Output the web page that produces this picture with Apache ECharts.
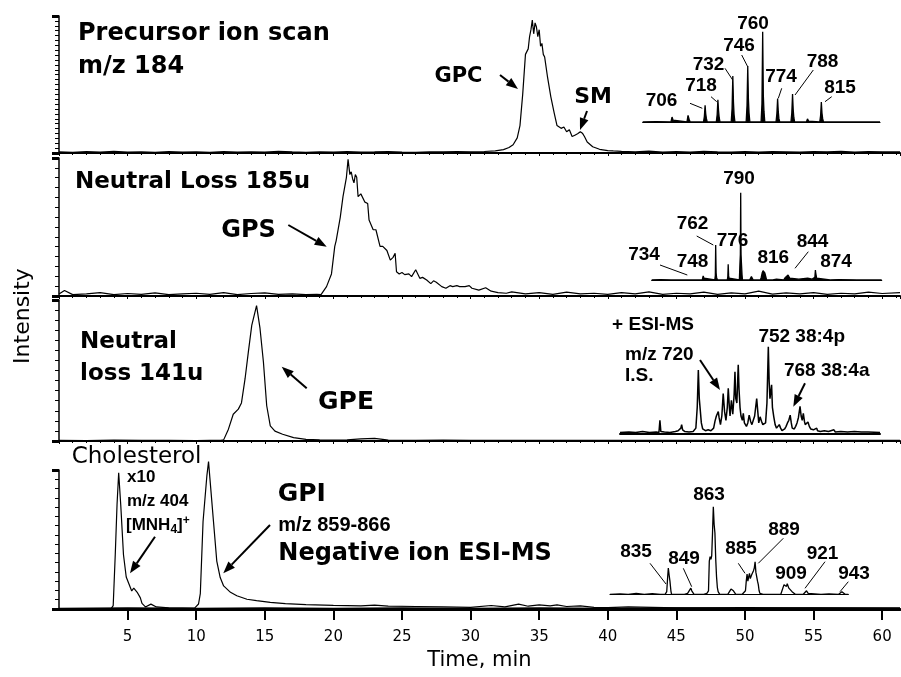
<!DOCTYPE html>
<html>
<head>
<meta charset="utf-8">
<title>Lipid class chromatograms</title>
<script src="https://cdn.jsdelivr.net/npm/echarts@6/dist/echarts.min.js"></script>
<style>
html, body { margin: 0; padding: 0; background: #fff; }
#main { width: 901px; height: 677px; }
</style>
</head>
<body>
<div id="main"></div>
<script>
// ---- chromatograms: retention time (min) / relative intensity (%) ----
var pcTime = [
    0, 1, 2, 3, 4, 5, 6, 7, 8, 9,
    10, 11, 12, 13, 14, 15, 16, 17, 18, 19,
    20, 21, 22, 23, 24, 25, 26, 27, 28, 29,
    30, 31, 31.8, 32.4, 32.8, 33.1, 33.4, 33.6, 33.8, 34.0,
    34.1, 34.2, 34.3, 34.4, 34.5, 34.6, 34.7, 34.8, 34.9, 35.0,
    35.1, 35.2, 35.3, 35.4, 35.6, 35.85, 36.1, 36.3, 36.6, 36.8,
    37.0, 37.2, 37.4, 37.6, 37.8, 38.0, 38.15, 38.3, 38.5, 38.9,
    39.4, 40.0, 40.4, 41, 42, 43, 44, 45, 46, 47,
    48, 49, 50, 51, 52, 53, 54, 55, 56, 57,
    58, 59, 60, 61.3
];
var pcInt = [
    0.8, 0.5, 1.0, 0.6, 1.2, 0.7, 0.9, 0.5, 1.1, 0.6,
    0.8, 0.5, 1.0, 0.7, 0.9, 0.6, 1.2, 0.8, 0.5, 0.9,
    0.7, 1.0, 0.6, 0.8, 1.1, 0.7, 0.5, 0.9, 0.8, 1.0,
    0.9, 1.1, 1.5, 2.5, 4, 6, 11, 20, 43, 72,
    74, 76, 85, 90, 97, 87, 95, 92, 85, 90,
    78, 80, 72, 70, 56, 41, 29, 20, 18, 19,
    15.5, 17, 12, 13, 14, 15.5, 14.5, 12, 8, 4.6,
    2.7, 1.8, 1.5, 1.2, 0.8, 1.3, 0.7, 1.0, 0.6, 1.2,
    0.8, 0.6, 1.0, 0.7, 1.1, 0.9, 0.6, 1.0, 0.8, 1.2,
    0.7, 1.0, 0.9, 0.8
];
var psTime = [
    0, 0.4, 1, 2, 3, 4, 5, 6, 7, 8,
    9, 10, 11, 12, 13, 14, 15, 16, 17, 18,
    18.8, 19.1, 19.5, 19.86, 20.1, 20.2, 20.5, 20.7, 20.95, 21.07,
    21.2, 21.3, 21.4, 21.5, 21.6, 21.7, 21.8, 22.0, 22.3, 22.5,
    22.6, 22.9, 23.1, 23.4, 23.6, 23.9, 24.15, 24.35, 24.5, 24.6,
    24.8, 25.0, 25.2, 25.5, 25.7, 26.0, 26.3, 26.5, 26.8, 27.1,
    27.3, 27.5, 27.9, 28.2, 28.5, 28.7, 29.0, 29.2, 29.6, 29.9,
    30.1, 30.6, 31.1, 31.5, 32, 32.6, 33, 34, 35, 36,
    37, 38, 39, 40, 41, 42, 43, 44, 45, 46,
    47, 48, 49, 50, 51, 52, 53, 54, 55, 56,
    57, 58, 59, 60, 61.3
];
var psInt = [
    1.5, 4, 1, 1.5, 2.5, 1, 1.8, 1.2, 2.2, 1.0,
    1.6, 2.0, 1.2, 2.5, 1.0, 1.8, 2.2, 1.2, 1.6, 1.0,
    1.2, 1.0, 6.8, 16, 36, 40, 57, 72, 86, 99,
    88, 90, 85, 82, 88, 86, 72, 74, 68, 67,
    55, 48, 48, 36, 36, 33, 26, 28, 31, 17.6,
    16, 17, 15.5, 16, 14, 19, 12.8, 13.5, 11.6, 9,
    11, 10, 6.8, 5.6, 7.5, 6.8, 7.5, 6.8, 6.8, 7.5,
    5.6, 4.3, 6, 3.5, 2.5, 2, 3, 1.5, 2.5, 1.2,
    2.8, 1.5, 2, 1.2, 2.5, 1.5, 3, 1.2, 2, 1.5,
    2.8, 1.2, 2.2, 1.5, 3.5, 1.3, 2.2, 1.5, 2.5, 1.2,
    2, 1.5, 2.8, 1.8, 2.5
];
var peTime = [
    0, 2, 4, 6, 8, 10, 11, 11.8, 12.0, 12.35,
    12.7, 13.07, 13.3, 13.56, 13.8, 14.05, 14.4, 14.65, 14.9, 15.14,
    15.4, 15.74, 16.3, 17.1, 18.0, 19, 20, 21, 22, 23,
    23.6, 24, 26, 28, 30, 35, 40, 45, 50, 55,
    61.3
];
var peInt = [
    0.5, 0.3, 0.6, 0.4, 0.5, 0.3, 0.5, 0.4, 0.8, 8.4,
    19, 22.6, 27, 44, 63, 82, 96, 80, 56, 25,
    10.7, 7, 4.8, 2.4, 1.2, 0.8, 0.6, 0.8, 1.5, 1.8,
    1.2, 0.6, 0.4, 0.6, 0.4, 0.5, 0.4, 0.5, 0.4, 0.5,
    0.4
];
var chTime = [
    0, 2, 3.8, 3.95, 4.1, 4.23, 4.35, 4.5, 4.7, 4.9,
    5.1, 5.3, 5.45, 5.57, 5.7, 5.8, 5.93, 6.05, 6.3, 6.7,
    7.1, 8, 10, 15, 20, 25, 30, 35, 40, 45,
    50, 55, 61.3
];
var chInt = [
    0.3, 0.3, 0.3, 2.4, 39, 75, 98, 75, 39, 23,
    18, 13, 15, 14, 12, 11, 8, 4, 1.5, 3.5,
    1.5, 0.8, 0.5, 0.8, 0.5, 0.8, 0.5, 0.8, 0.5, 0.8,
    0.5, 0.8, 0.5
];
var piTime = [
    0, 5, 8, 9.9, 10.17, 10.3, 10.5, 10.78, 10.9, 11.0,
    11.26, 11.5, 11.75, 12.0, 12.5, 12.96, 13.7, 14.4, 15.4, 16.5,
    18, 20, 22, 23, 24, 26, 28, 30, 31.5, 32.5,
    33.5, 34.2, 35, 35.8, 36.3, 37, 38, 39, 40, 41.5,
    45, 50, 55, 61.3
];
var piInt = [
    0.5, 0.8, 0.6, 0.8, 3.6, 11, 63, 96, 106, 94,
    63, 34.5, 22.6, 16.6, 12, 9.5, 7, 6, 4.8, 3.8,
    3.2, 2.6, 2.2, 2.8, 2, 1.8, 1.5, 1.2, 2.5, 1.5,
    3.5, 2, 3, 2.2, 3, 1.8, 2.2, 1.2, 1.0, 1.5,
    0.8, 1.0, 0.8, 0.8
];
var timeTicks = [5, 10, 15, 20, 25, 30, 35, 40, 45, 50, 55, 60];

// ---- inset mass spectra: m/z / relative abundance (%) ----
var pcMz = [
    647.5, 660, 661, 674, 675, 676, 677, 689, 690, 691,
    692, 704.5, 705.3, 706, 706.6, 707.2, 708, 716.5, 717.3, 718,
    718.6, 719.2, 720, 730.5, 731.3, 732, 732.6, 733.2, 734, 744.5,
    745.3, 746, 746.6, 747.2, 748, 758.5, 759.3, 760, 760.6, 761.2,
    762, 772.5, 773.3, 774, 774.6, 775.2, 776, 786.5, 787.3, 788,
    788.6, 789.2, 790, 801, 802, 803, 804, 813.5, 814.3, 815,
    815.6, 816.2, 817, 845, 846, 847, 870
];
var pcAbund = [
    0, 0.5, 0, 0, 5.5, 2, 0, 0, 7.4, 3,
    0, 0, 6, 18.5, 9, 4, 0, 0, 8, 24.5,
    13, 5, 0, 0, 15, 51, 22, 8, 0, 0,
    18, 62, 26, 10, 0, 0, 20, 100, 30, 12,
    0, 0, 9, 26, 12, 4, 0, 0, 10, 31,
    14, 5, 0, 0, 3.5, 1, 0, 0, 7, 22,
    10, 4, 0, 0, 2, 0, 0
];
var psMz = [
    690.4, 700, 701, 712, 714, 715, 725, 726, 727, 733,
    734, 735, 736, 747, 748, 749, 750, 761, 761.6, 762,
    762.5, 763, 764, 775, 775.6, 776, 776.5, 777, 778, 788.5,
    789.2, 789.6, 790, 790.4, 790.8, 791.5, 792, 800, 801, 802,
    803, 804, 812, 813, 814, 815, 816, 817, 818, 819,
    826, 828, 830, 831, 838, 839, 840, 841, 842, 843,
    844, 845, 846, 850, 855, 860, 865, 870, 873, 873.6,
    874, 875, 876, 890, 900, 901, 920, 921, 922, 947.8
];
var psAbund = [
    0, 0.5, 0, 0, 1.5, 0, 0, 1, 0, 0,
    1.9, 0.8, 0, 0, 4.6, 2, 0, 0, 5, 40,
    8, 3, 0, 0, 4, 18, 5, 2, 0, 0,
    20, 29, 100, 29, 20, 6, 0, 0, 2, 4,
    2, 0, 0, 3, 8, 10.7, 10, 8, 4, 0,
    0, 2, 1, 0, 0, 2, 3, 4.5, 3, 5.7,
    5, 2, 1, 1.5, 1, 1.5, 2, 1, 3, 11.5,
    8, 2, 0, 0, 0.5, 0, 0, 0.5, 0, 0
];
var peMz = [
    643.5, 650, 655, 660, 665, 670, 672, 672.7, 673.4, 676,
    680, 684, 686, 688, 688.6, 689.3, 691, 694, 697, 699,
    700, 700.8, 701.5, 702.2, 703, 704, 706, 708, 710, 712,
    713, 714, 715.4, 716, 717, 718, 719, 720, 721, 722,
    722.7, 723.5, 724, 725, 726, 727, 727.6, 728.2, 729, 730,
    730.6, 731.3, 732, 733, 733.7, 734.5, 736, 737, 738, 739,
    740, 741, 742, 743.5, 744.3, 745, 746, 747, 748, 749,
    750, 751, 752, 752.6, 753.2, 754.4, 755, 756, 757, 758,
    759, 760, 761, 762, 764, 765, 766, 767, 768, 768.8,
    769.5, 771, 772, 773, 774, 775.2, 776, 776.8, 777.6, 778.4,
    779, 780, 781, 782, 783, 785, 786, 787.4, 788, 790,
    793, 796, 800, 801, 805, 810, 815, 820, 825, 833.7
];
var peAbund = [
    1, 1.5, 1, 2, 1, 1.5, 1, 15, 2, 1.5,
    1, 2, 3, 6, 10, 4, 2, 1.5, 2, 6,
    30, 73, 40, 27, 12, 5, 3, 4, 3, 6,
    14, 20, 25, 18, 10, 20, 46, 25, 15, 30,
    52, 30, 20, 38, 22, 45, 71, 40, 35, 79,
    50, 30, 20, 15, 23, 12, 8, 12, 21, 14,
    10, 15, 20, 40, 25, 12, 19, 14, 10, 8,
    12, 35, 100, 60, 40, 56, 30, 19, 10, 6,
    4, 10, 6, 3, 5, 8, 12, 15, 21, 12,
    6, 5, 8, 12, 18, 31, 20, 15, 23, 14,
    10, 8, 13, 8, 5, 4, 3, 6, 3, 2,
    3, 2, 4, 1.5, 2, 1.5, 2, 1.5, 1.5, 1
];
var piMz = [
    798.7, 805, 810, 815, 820, 825, 830, 833, 834, 834.6,
    835, 835.5, 836, 836.6, 837, 845, 847, 848, 849, 849.6,
    850, 851, 857, 858, 859, 859.5, 860, 860.5, 861, 861.5,
    862, 862.5, 863, 863.5, 864, 864.5, 865, 865.5, 866, 867,
    872, 873, 874, 875, 875.5, 876, 877, 881, 882, 883,
    883.5, 884, 884.5, 885, 885.5, 886, 886.5, 887, 887.5, 888,
    888.5, 889, 889.5, 890, 890.5, 891, 891.5, 892, 894, 900,
    905, 906, 907, 907.5, 908, 908.5, 909, 909.5, 910, 911,
    912, 913, 914, 919, 920, 921, 922, 923, 930, 935,
    941, 942, 943, 944, 945, 947
];
var piAbund = [
    0, 0.5, 0, 1, 0, 0.8, 0, 0, 3, 20,
    30, 22, 15, 4, 0, 0, 1, 3, 7, 4,
    2, 0, 0, 2, 1, 3, 4, 38, 43, 40,
    44, 70, 100, 80, 70, 40, 20, 8, 3, 0,
    0, 2, 6, 8, 4, 2, 0, 0, 2, 4,
    15, 23, 15, 20, 24, 18, 20, 23, 25, 27,
    30, 37, 25, 23, 15, 11, 4, 1, 0, 0,
    0, 2, 11, 12, 12, 9, 12, 10, 7, 5,
    3, 1, 0, 0, 2, 4, 1, 0, 0, 0.5,
    0, 1, 3, 1, 0, 0
];

function zip(a, b) {
    var out = [];
    for (var i = 0; i < a.length; i++) out.push([a[i], b[i]]);
    return out;
}

// layout of the four stacked panels and the four inset spectra
var panels = [
    { top: 16, bottom: 153, minor: 28 },
    { top: 158, bottom: 296, minor: 14 },
    { top: 300, bottom: 441, minor: 14 },
    { top: 470, bottom: 609, minor: 15 }
];
var insets = [
    { left: 642.7, top: 31.7, width: 237.3, height: 90.3, min: 647.5, max: 870 },
    { left: 651.7, top: 192.7, width: 230, height: 87.3, min: 690.4, max: 947.8 },
    { left: 620, top: 346.7, width: 260, height: 86.6, min: 643.5, max: 833.7 },
    { left: 610, top: 506.7, width: 238.3, height: 87.6, min: 798.7, max: 947 }
];

var grids = [], xAxes = [], yAxes = [], series = [];
var black = '#000';

panels.forEach(function(p, i) {
    var last = i == panels.length - 1;
    grids.push({ left: 59, right: 1, top: p.top, height: p.bottom - p.top });
    xAxes.push({
        gridIndex: i, type: 'value', min: 0, max: 61.3, interval: 5,
        axisLine: { lineStyle: { color: black, width: last ? 3 : 2 } },
        axisTick: last ? { length: 11, customValues: timeTicks, lineStyle: { color: black, width: 2 } }
                       : { length: 3, lineStyle: { color: black, width: 1 } },
        minorTick: { show: !last, splitNumber: 5, length: 2, lineStyle: { color: black } },
        axisLabel: last ? {
            color: black, fontFamily: 'DejaVu Sans', fontSize: 15, margin: 21, customValues: timeTicks
        } : { show: false },
        splitLine: { show: false },
        name: last ? 'Time, min' : '',
        nameLocation: 'middle', nameGap: 41,
        nameTextStyle: { color: black, fontFamily: 'DejaVu Sans', fontSize: 21 }
    });
    yAxes.push({
        gridIndex: i, type: 'value', min: 0, max: 100, interval: 100,
        axisLine: { show: true, lineStyle: { color: black, width: 1.5 } },
        axisTick: { length: 7, lineStyle: { color: black, width: 3 } },
        minorTick: { show: true, splitNumber: p.minor, length: 4, lineStyle: { color: black, width: 1 } },
        axisLabel: { show: false },
        splitLine: { show: false }
    });
});

insets.forEach(function(s, k) {
    var i = panels.length + k;
    grids.push({ left: s.left, top: s.top, width: s.width, height: s.height });
    xAxes.push({
        gridIndex: i, type: 'value', min: s.min, max: s.max,
        axisLine: { onZero: false, lineStyle: { color: black, width: k == 2 ? 2 : 1.2 } },
        axisTick: { show: false }, axisLabel: { show: false }, splitLine: { show: false }
    });
    yAxes.push({ gridIndex: i, type: 'value', min: 0, max: 100, show: false });
});

function trace(data, idx, w, filled) {
    var s = {
        type: 'line', data: data, xAxisIndex: idx, yAxisIndex: idx,
        showSymbol: false, clip: false, silent: true,
        lineStyle: { color: black, width: w || 1.2 }
    };
    if (filled) s.areaStyle = { color: black, opacity: 1 };
    return s;
}
series.push(trace(zip(pcTime, pcInt), 0));
series.push(trace(zip(psTime, psInt), 1));
series.push(trace(zip(peTime, peInt), 2));
series.push(trace(zip(chTime, chInt), 3));
series.push(trace(zip(piTime, piInt), 3));
series.push(trace(zip(pcMz, pcAbund), 4, 1.3, true));
series.push(trace(zip(psMz, psAbund), 5, 1.3, true));
series.push(trace(zip(peMz, peAbund), 6, 1.5));
series.push(trace(zip(piMz, piAbund), 7, 1.3));

// ---- annotations ----
var TITLE = 'bold 23px "DejaVu Sans"';
var LAB = 'bold 19px "Liberation Sans"';
var SMALL = 'bold 17px "Liberation Sans"';

function txt(s, x, y, font, align) {
    return {
        type: 'text', x: x, y: y, z: 10,
        style: { text: s, font: font || LAB, fill: black, align: align || 'center', verticalAlign: 'middle' }
    };
}
function lead(x1, y1, x2, y2) {
    return { type: 'line', z: 10, shape: { x1: x1, y1: y1, x2: x2, y2: y2 }, style: { stroke: black, lineWidth: 1 } };
}
function arrow(x1, y1, x2, y2) {
    var a = Math.atan2(y2 - y1, x2 - x1), L = 12, w = 4.5;
    var bx = x2 - L * Math.cos(a), by = y2 - L * Math.sin(a);
    var px = -Math.sin(a) * w, py = Math.cos(a) * w;
    return [
        { type: 'line', z: 10, shape: { x1: x1, y1: y1, x2: bx, y2: by }, style: { stroke: black, lineWidth: 2 } },
        { type: 'polygon', z: 10, shape: { points: [[x2, y2], [bx + px, by + py], [bx - px, by - py]] }, style: { fill: black } }
    ];
}

var graphic = [
    // panel 1
    txt('Precursor ion scan', 78, 34, 'bold 24px "DejaVu Sans"', 'left'),
    txt('m/z 184', 78, 67, 'bold 24px "DejaVu Sans"', 'left'),
    txt('GPC', 458.5, 77, 'bold 21px "DejaVu Sans"'),
    txt('SM', 593, 97, 'bold 22px "DejaVu Sans"'),
    txt('706', 661.5, 101), txt('718', 701, 86), txt('732', 708.5, 64.5), txt('746', 739, 45.5),
    txt('760', 753, 24), txt('774', 781, 76.5), txt('788', 822.5, 61.5), txt('815', 840, 87.5),
    lead(690, 103.3, 702.3, 108.3), lead(711, 96.7, 716.7, 101.7), lead(725, 68.3, 732.7, 80),
    lead(741.7, 55, 747.7, 66.7), lead(781.7, 88.3, 778.3, 98.3), lead(813.3, 70, 795, 95),
    lead(831.7, 96.7, 825, 101.7),
    // panel 2
    txt('Neutral Loss 185u', 75, 182.5, TITLE, 'left'),
    txt('GPS', 248.5, 231, 'bold 24px "DejaVu Sans"'),
    txt('790', 739, 179), txt('762', 692.5, 224), txt('776', 732.5, 240.5), txt('734', 644, 255),
    txt('748', 692.5, 261.5), txt('816', 773.3, 257.5), txt('844', 812.5, 241.5), txt('874', 836, 262),
    lead(696.7, 236, 713.3, 245), lead(660, 265, 687.3, 275), lead(808.3, 251.7, 795, 268.3),
    // panel 3
    txt('Neutral', 80, 342, TITLE, 'left'),
    txt('loss 141u', 80, 374, TITLE, 'left'),
    txt('GPE', 346, 402, 'bold 25px "DejaVu Sans"'),
    txt('+ ESI-MS', 653, 325),
    txt('752 38:4p', 801.7, 336.5),
    txt('m/z 720', 625, 355, LAB, 'left'),
    txt('I.S.', 625, 376, LAB, 'left'),
    txt('768 38:4a', 826.7, 371),
    // panel 4
    txt('Cholesterol', 71.7, 457, '23px "DejaVu Sans"', 'left'),
    txt('x10', 127, 477, SMALL, 'left'),
    txt('m/z 404', 127, 501, SMALL, 'left'),
    {
        type: 'text', x: 126, y: 525, z: 10,
        style: {
            text: '[MNH{sub|4}]{sup|+}', font: SMALL, fill: black, align: 'left', verticalAlign: 'middle',
            rich: {
                sub: { font: 'bold 12px "Liberation Sans"', fill: black, padding: [9, 0, 0, 0] },
                sup: { font: 'bold 12px "Liberation Sans"', fill: black, padding: [0, 0, 9, 0] }
            }
        }
    },
    txt('GPI', 301.7, 494, 'bold 25px "DejaVu Sans"'),
    txt('m/z 859-866', 278.3, 525, 'bold 20px "Liberation Sans"', 'left'),
    txt('Negative ion ESI-MS', 278.3, 554, 'bold 24px "DejaVu Sans"', 'left'),
    txt('863', 709, 495), txt('835', 636, 552), txt('849', 684, 558.5), txt('885', 741, 548.5),
    txt('889', 784, 530), txt('921', 822.5, 553.5), txt('909', 791, 573.5), txt('943', 854, 573.5),
    lead(650, 563.3, 666, 584), lead(683.3, 568.3, 691.7, 586.7), lead(738.3, 563.3, 745, 573.3),
    lead(783.3, 538.3, 758.3, 563.3), lead(825, 561.7, 805, 588.3), lead(848.3, 581.7, 840, 591.7),
    // shared y label
    { type: 'text', x: 23, y: 316, rotation: Math.PI / 2, z: 10,
      style: { text: 'Intensity', font: '22px "DejaVu Sans"', fill: black, align: 'center', verticalAlign: 'middle' } }
].concat(
    arrow(500, 75, 518, 89),
    arrow(587, 111, 580, 130),
    arrow(288.3, 225, 326.7, 246.7),
    arrow(306.7, 388.3, 281.7, 366.7),
    arrow(700, 360, 720, 390),
    arrow(805, 383.3, 793.3, 406.7),
    arrow(155, 536.7, 130, 573.3),
    arrow(270, 525, 223.3, 573.3)
);

var chart = echarts.init(document.getElementById('main'), null, { renderer: 'canvas' });
chart.setOption({
    animation: false,
    backgroundColor: '#fff',
    grid: grids,
    xAxis: xAxes,
    yAxis: yAxes,
    series: series,
    graphic: graphic
});
</script>
</body>
</html>
